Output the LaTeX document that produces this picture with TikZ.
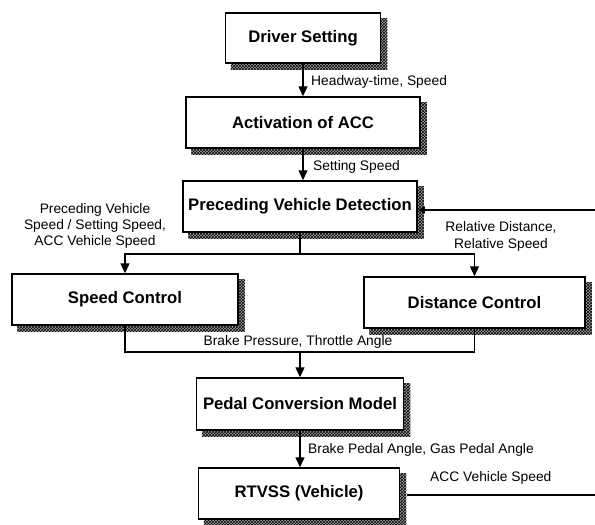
\documentclass[tikz,border=0pt]{standalone}
\usepackage{fontspec}
\setmainfont{Liberation Sans}
\usetikzlibrary{arrows.meta,backgrounds,patterns}

\begin{document}
\begin{tikzpicture}[x=1pt,y=-1pt,
	block/.style={draw, line width=1.5pt, fill=white, inner sep=0pt,
		font=\fontsize{16.7}{20}\selectfont\bfseries},
	boxshade/.style={fill=black, fill opacity=0.35,
		postaction={pattern=crosshatch dots, pattern color=black},
		postaction={pattern=crosshatch, pattern color=black}},
	sig/.style={font=\fontsize{13.8}{16.3}\selectfont, inner sep=0pt},
	wire/.style={line width=1.3pt},
	flow/.style={wire, -{Triangle[length=10pt,width=9pt]}}]

	\useasboundingbox (0,0) rectangle (595,525);

	% the blocks
	\node[block, minimum width=155pt, minimum height=50pt] (drv) at (303,38) {Driver Setting};
	\node[block, minimum width=234pt, minimum height=51pt] (act) at (303,122.5) {Activation of ACC};
	\node[block, minimum width=234pt, minimum height=51pt] (pvd) at (300,206.5) {Preceding Vehicle Detection};
	\node[block, minimum width=226pt, minimum height=51pt] (spd) at (125,299.5) {Speed Control};
	\node[block, minimum width=221pt, minimum height=51pt] (dst) at (474.5,302.5) {Distance Control};
	\node[block, minimum width=207pt, minimum height=52pt] (pcm) at (300,404) {Pedal Conversion Model};
	\node[block, minimum width=201pt, minimum height=51pt] (rtv) at (299,493.5) {RTVSS (Vehicle)};

	% stippled shadows behind the blocks
	\begin{scope}[on background layer]
		\foreach \blk in {drv,act,pvd,spd,dst,pcm,rtv}
			\fill[boxshade] ([shift={(6,6)}]\blk.north west) rectangle ([shift={(6,6)}]\blk.south east);
	\end{scope}

	% signal labels
	\node[sig, anchor=west] (lhw) at (311,82) {Headway-time, Speed};
	\node[sig, anchor=west] (lss) at (313,167) {Setting Speed};
	\node[sig, align=center] (lpv) at (95,226) {Preceding Vehicle\\Speed / Setting Speed,\\ACC Vehicle Speed};
	\node[sig, align=center] (lrel) at (501,236.5) {Relative Distance,\\Relative Speed};
	\node[sig] (lbp) at (298,342) {Brake Pressure, Throttle Angle};
	\node[sig, anchor=west] (lpa) at (308,450) {Brake Pedal Angle, Gas Pedal Angle};
	\node[sig, anchor=west] (lvs) at (430,478) {ACC Vehicle Speed};

	% connections
	\coordinate (split) at (300,254);
	\coordinate (merge) at (300,352);
	\coordinate (relin) at (595,210);
	\coordinate (vsout) at (595,495);

	\draw[flow] (drv.south) -- (act.north);
	\draw[flow] (act.south) -- (act.south |- pvd.north);
	\draw[wire] (pvd.south) -- (split);
	\draw[flow] (split) -| (spd.north);
	\draw[flow] (split) -| (dst.north);
	\draw[wire] (spd.south) |- (merge) -| (dst.south);
	\draw[flow] (merge) -- (pcm.north);
	\draw[flow] (pcm.south) -- (pcm.south |- rtv.north);
	\draw[wire, -{Triangle[length=7pt,width=7pt]}] (relin) -- (relin -| pvd.east);
	\draw[wire] ([xshift=7pt]rtv.east |- vsout) -- (vsout);

\end{tikzpicture}
\end{document}
